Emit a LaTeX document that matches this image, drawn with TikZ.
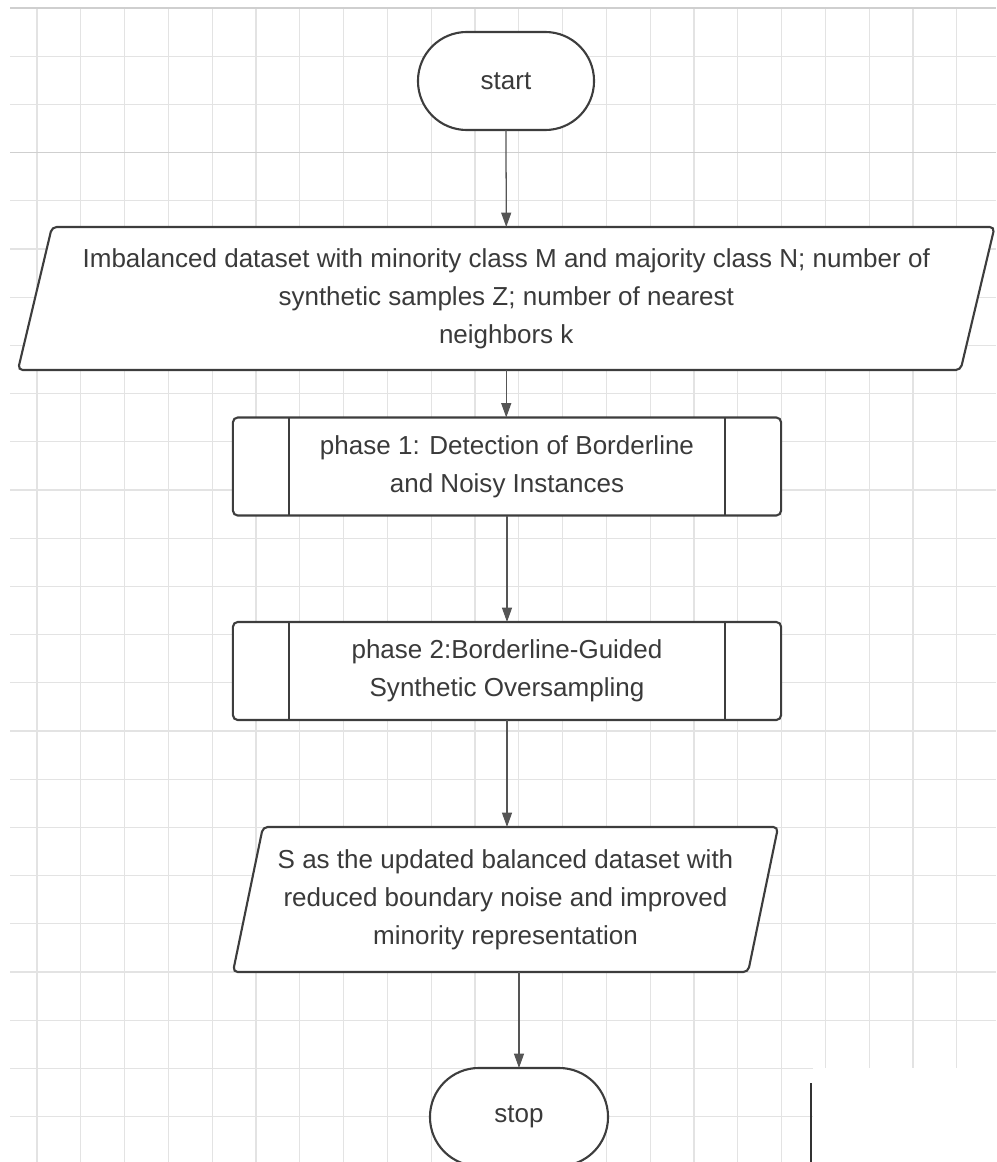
\documentclass[tikz,border=0pt]{standalone}
\usepackage{fontspec}
\setmainfont{Liberation Sans}
\usetikzlibrary{arrows.meta,backgrounds}
\usepackage{xcolor}
\definecolor{cline}{HTML}{3D3D3D}
\definecolor{carrow}{HTML}{555555}
\definecolor{ctext}{HTML}{3A3A3A}
\definecolor{cgrid}{HTML}{E3E3E3}
\definecolor{cgridd}{HTML}{CFCFCF}

\begin{document}
\begin{tikzpicture}[x=0.025cm, y=-0.025cm,
  gridline/.style={draw=cgrid, line width=0.9pt},
  term/.style={draw=cline, line width=1.5pt, fill=white, text=ctext,
               rounded corners=1.22cm, minimum width=4.4cm, minimum height=2.45cm,
               outer sep=0pt, font=\fontsize{18.5}{27}\selectfont},
  proc/.style={draw=cline, line width=1.5pt, fill=white, text=ctext,
               rounded corners=0.12cm, minimum width=13.7cm, minimum height=2.45cm,
               outer sep=0pt, align=center, font=\fontsize{18.5}{27}\selectfont},
  io/.style={text=ctext, outer sep=0pt, inner sep=0pt, align=center,
             font=\fontsize{18.5}{27}\selectfont},
  para/.style={draw=cline, line width=1.5pt, fill=white, rounded corners=0.12cm},
  flow/.style={draw=carrow, line width=0.9pt, -{Triangle[length=0.36cm, width=0.25cm]}}
]
  \useasboundingbox (0,0) rectangle (996,1162);

  \node[term] (start) at (506,81) {start};

  \node[io, minimum width=23.56cm, minimum height=3.575cm] (inp) at (506.25,298.5)
    {Imbalanced dataset with minority class M and majority class N; number of\\
     synthetic samples Z; number of nearest\\
     neighbors k};

  \node[proc] (p1) at (507,466.5) {phase 1: Detection of Borderline\\and Noisy Instances};
  \node[proc] (p2) at (507,671) {phase 2:Borderline-Guided\\Synthetic Oversampling};

  \node[io, minimum width=12.875cm, minimum height=3.625cm] (out) at (505.5,899.5)
    {S as the updated balanced dataset with\\
     reduced boundary noise and improved\\
     minority representation};

  \node[term, minimum width=4.45cm] (stop) at (519,1117) {stop};

  \begin{pgfonlayer}{background}
    % grid paper
    \foreach \k in {0,...,21}
      \draw[gridline] ({37+43.8*\k},8) -- ({37+43.8*\k},1162);
    \foreach \j in {0,...,23}
      \draw[gridline] (10,{8+48.2*\j}) -- (996,{8+48.2*\j});
    \draw[gridline, draw=cgridd] (10,8) -- (996,8);
    \draw[gridline, draw=cgridd] (10,152.6) -- (996,152.6);
    \fill[white] (813,1068) rectangle (996,1162);
    \draw[black!80, line width=1.6pt] (811,1083) -- (811,1162);
    % parallelograms under the text
    \draw[para] ([xshift=-0.425cm]inp.south west) -- ([xshift=0.425cm]inp.north west)
      -- ([xshift=0.425cm]inp.north east) -- ([xshift=-0.425cm]inp.south east) -- cycle;
    \draw[para] ([xshift=-0.375cm]out.south west) -- ([xshift=0.375cm]out.north west)
      -- ([xshift=0.375cm]out.north east) -- ([xshift=-0.375cm]out.south east) -- cycle;
  \end{pgfonlayer}

  % side bars of the process boxes
  \foreach \b in {p1,p2} {
    \draw[cline, line width=1.5pt] ([xshift=1.4cm]\b.north west) -- ([xshift=1.4cm]\b.south west);
    \draw[cline, line width=1.5pt] ([xshift=-1.4cm]\b.north east) -- ([xshift=-1.4cm]\b.south east);
  }

  \draw[flow] (start.south) -- (inp.north);
  \draw[flow] (inp.south) -- (inp.south |- p1.north);
  \draw[flow] (p1.south) -- (p2.north);
  \draw[flow] (p2.south) -- (p2.south |- out.north);
  \draw[flow] (out.south -| stop.north) -- (stop.north);
\end{tikzpicture}
\end{document}
